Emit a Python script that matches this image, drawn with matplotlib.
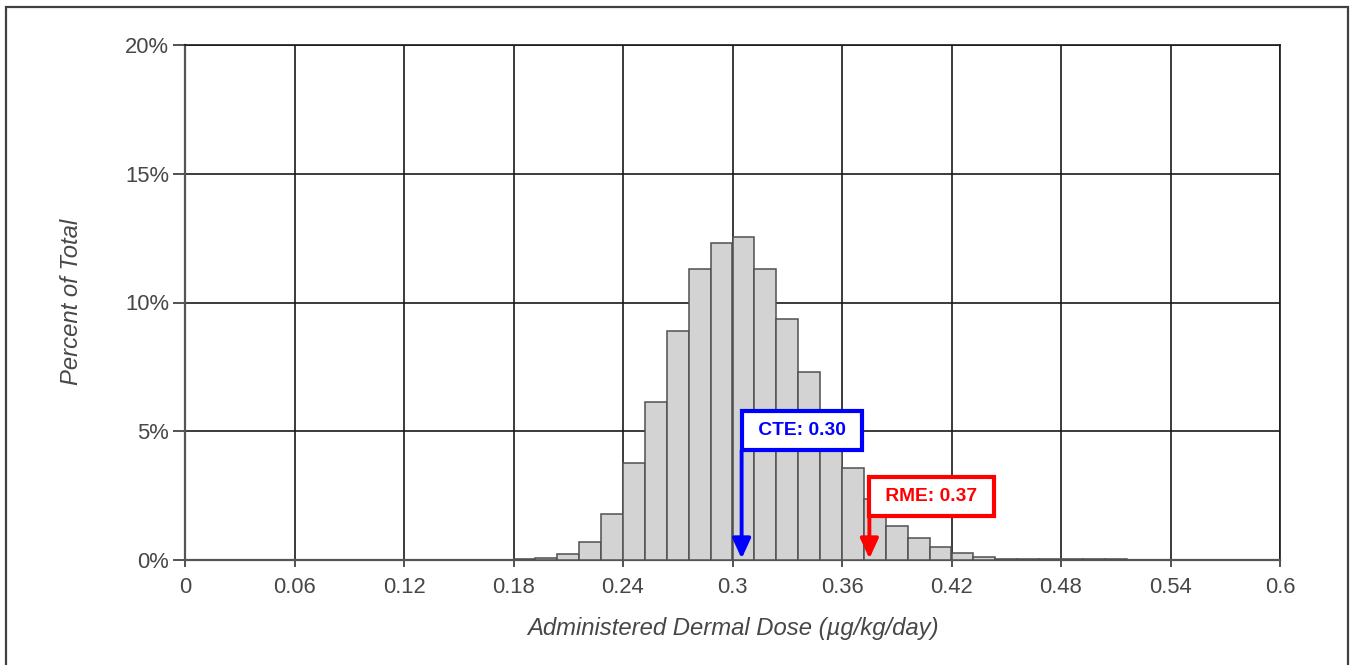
import matplotlib
matplotlib.use("Agg")
import matplotlib.pyplot as plt
from matplotlib.patches import Rectangle
from matplotlib.ticker import FuncFormatter

plt.rcParams['font.family'] = ['Liberation Sans', 'DejaVu Sans']

# ---- data ----
bin_left = [0.180, 0.192, 0.204, 0.216, 0.228, 0.240, 0.252, 0.264, 0.276, 0.288,
            0.300, 0.312, 0.324, 0.336, 0.348, 0.360, 0.372, 0.384, 0.396, 0.408,
            0.420, 0.432, 0.444, 0.456, 0.468, 0.480, 0.492, 0.504]
bin_width = 0.012
percent = [0.04, 0.08, 0.22, 0.71, 1.80, 3.75, 6.15, 8.89, 11.29, 12.31,
           12.53, 11.29, 9.36, 7.30, 5.25, 3.56, 2.35, 1.33, 0.84, 0.49,
           0.27, 0.11, 0.05, 0.04, 0.03, 0.03, 0.02, 0.02]
x_ticks = [0, 0.06, 0.12, 0.18, 0.24, 0.30, 0.36, 0.42, 0.48, 0.54, 0.60]
x_tick_labels = ['0', '0.06', '0.12', '0.18', '0.24', '0.3', '0.36', '0.42', '0.48', '0.54', '0.6']
y_ticks = [0, 5, 10, 15, 20]
cte_value = 0.305
rme_value = 0.375
cte_label = 'CTE: 0.30'
rme_label = 'RME: 0.37'
x_label = 'Administered Dermal Dose (\u00b5g/kg/day)'
y_label = 'Percent of Total'

W, H = 1351, 665
fig = plt.figure(figsize=(W / 100, H / 100), dpi=100)
ax = fig.add_axes([185 / W, 1 - 560 / H, (1280 - 185) / W, (560 - 45) / H])

ax.bar(bin_left, percent, width=bin_width, align='edge',
       color='#d3d3d3', edgecolor='#505050', linewidth=1.1, zorder=3)

ax.set_xlim(0, 0.6)
ax.set_ylim(0, 20)
ax.set_xticks(x_ticks)
ax.set_xticklabels(x_tick_labels)
ax.set_yticks(y_ticks)
ax.yaxis.set_major_formatter(FuncFormatter(lambda v, p: f'{int(v)}%'))

ax.grid(True, color='#1a1a1a', linewidth=1.2, zorder=0)
ax.set_axisbelow(True)
for side in ['top', 'right']:
    ax.spines[side].set_color('#1a1a1a')
    ax.spines[side].set_linewidth(1.2)
for side in ['left', 'bottom']:
    ax.spines[side].set_color('#555555')
    ax.spines[side].set_linewidth(1.6)

ax.tick_params(axis='x', direction='out', length=5, width=1.3, color='#444444',
               labelsize=15.8, labelcolor='#474747', pad=7)
ax.tick_params(axis='y', direction='out', length=8.5, width=1.3, color='#444444',
               labelsize=15.8, labelcolor='#474747', pad=3)

fig.text(732.5 / W, 1 - 628 / H, x_label, ha='center', va='center',
         fontsize=17.2, style='italic', color='#474747')
fig.text(72 / W, 1 - 302 / H, y_label, ha='center', va='center', rotation=90,
         fontsize=17.2, style='italic', color='#474747')


def marker(value, label, color, y_center_pt, box_bottom):
    fs = 13.8
    pad = 0.57
    lw = 3.0
    # arrow from bottom-left corner of the box down to the axis
    ax.annotate('', xy=(value, 0), xycoords='data',
                xytext=(value, box_bottom), textcoords='data',
                arrowprops=dict(arrowstyle='-|>,head_length=1.2,head_width=0.55',
                                color=color, lw=2.8, mutation_scale=10,
                                shrinkA=0, shrinkB=1),
                zorder=6)
    ax.annotate(' ' + label + ' ', xy=(value, 0), xycoords='data',
                xytext=(pad * fs, y_center_pt), textcoords='offset points',
                ha='left', va='center', fontsize=fs, fontweight='bold', color=color,
                bbox=dict(boxstyle=f'square,pad={pad}', fc='white', ec=color, lw=lw),
                zorder=7)


marker(cte_value, cte_label, '#0000ff', 93.0, 4.25)
marker(rme_value, rme_label, '#ff0000', 46.0, 1.75)

fig.add_artist(Rectangle((6 / W, -0.02), (1348 - 6) / W, 1 - 7 / H + 0.02,
                         transform=fig.transFigure, fill=False,
                         edgecolor='#404040', linewidth=1.6))

fig.savefig('out.png', dpi=100)
